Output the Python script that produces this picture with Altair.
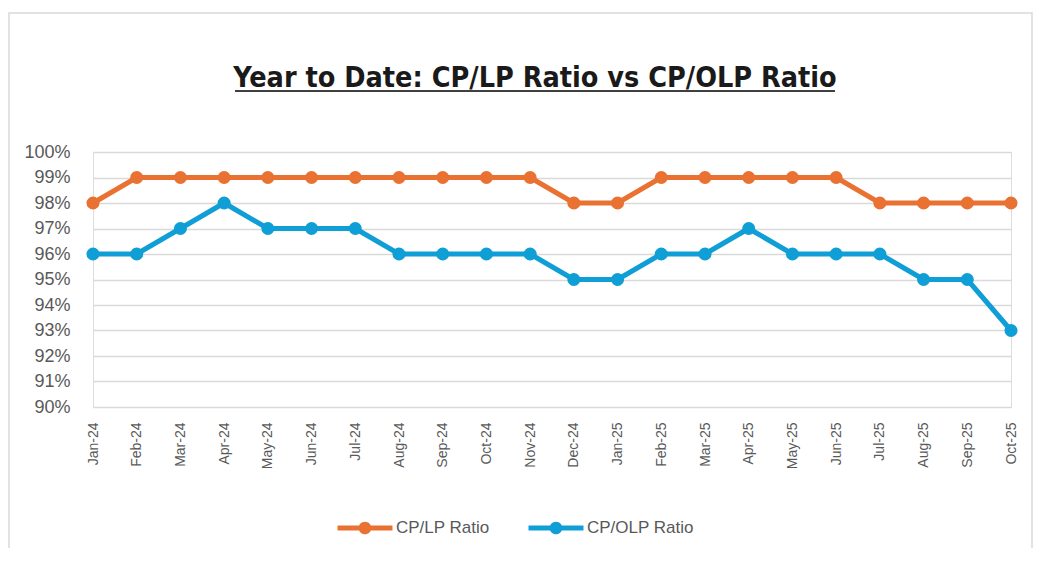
import altair as alt
import pandas as pd

months = ["Jan-24", "Feb-24", "Mar-24", "Apr-24", "May-24", "Jun-24", "Jul-24", "Aug-24",
          "Sep-24", "Oct-24", "Nov-24", "Dec-24", "Jan-25", "Feb-25", "Mar-25", "Apr-25",
          "May-25", "Jun-25", "Jul-25", "Aug-25", "Sep-25", "Oct-25"]
cp_lp = [0.98, 0.99, 0.99, 0.99, 0.99, 0.99, 0.99, 0.99, 0.99, 0.99, 0.99, 0.98,
         0.98, 0.99, 0.99, 0.99, 0.99, 0.99, 0.98, 0.98, 0.98, 0.98]
cp_olp = [0.96, 0.96, 0.97, 0.98, 0.97, 0.97, 0.97, 0.96, 0.96, 0.96, 0.96, 0.95,
          0.95, 0.96, 0.96, 0.97, 0.96, 0.96, 0.96, 0.95, 0.95, 0.93]
series = ["CP/LP Ratio", "CP/OLP Ratio"]
colors = ["#E97132", "#0F9ED5"]
y_ticks = [0.90, 0.91, 0.92, 0.93, 0.94, 0.95, 0.96, 0.97, 0.98, 0.99, 1.00]
title_text = "Year to Date: CP/LP Ratio vs CP/OLP Ratio"

rows = []
for m, v in zip(months, cp_lp):
    rows.append({"Month": m, "Series": series[0], "Value": v})
for m, v in zip(months, cp_olp):
    rows.append({"Month": m, "Series": series[1], "Value": v})
df = pd.DataFrame(rows)

FONT = "Liberation Sans, Arial, sans-serif"

x_enc = alt.X("Month:N", sort=months, title=None,
              scale=alt.Scale(type="point", padding=0),
              axis=alt.Axis(labelAngle=-90, labelFontSize=14, labelColor="#595959",
                            labelFont=FONT, labelPadding=15, domain=False, ticks=False,
                            grid=False))
y_enc = alt.Y("Value:Q", title=None,
              scale=alt.Scale(domain=[0.90, 1.00], nice=False, zero=False),
              axis=alt.Axis(values=y_ticks, format=".0%", labelFontSize=18,
                            labelColor="#595959", labelFont=FONT, labelPadding=23,
                            domain=False, ticks=False, grid=True, gridColor="#d9d9d9",
                            gridWidth=1.5))
color_scale = alt.Scale(domain=series, range=colors)

legend_path = ("M-2,-0.18 L-0.3,-0.18 L-0.3,0.18 L-2,0.18 Z "
               "M0.3,-0.18 L2,-0.18 L2,0.18 L0.3,0.18 Z "
               "M-0.46,0 A0.46,0.46 0 1,1 0.46,0 A0.46,0.46 0 1,1 -0.46,0 Z")
legend = alt.Legend(title=None, orient="none", direction="horizontal",
                    columns=2, legendX=258, legendY=362,
                    symbolType=legend_path, symbolSize=756,
                    symbolStrokeWidth=0, symbolOpacity=1,
                    labelFontSize=17, labelColor="#595959",
                    labelFont=FONT, labelOffset=17,
                    columnPadding=38, padding=0)

lines = alt.Chart(df).mark_line(strokeWidth=5).encode(
    x=x_enc, y=y_enc,
    color=alt.Color("Series:N", scale=color_scale, sort=series, legend=legend),
)

points = alt.Chart(df).mark_point(filled=True, size=170, opacity=1).encode(
    x=x_enc, y=y_enc,
    color=alt.Color("Series:N", scale=color_scale, sort=series, legend=legend),
)

title = alt.Chart(pd.DataFrame({"t": [title_text]})).mark_text(
    font="DejaVu Sans Condensed, Liberation Sans Narrow, sans-serif",
    fontSize=28.5, fontWeight="bold", color="#1a1a1a", align="center",
    baseline="alphabetic",
).encode(text="t:N", x=alt.value(442), y=alt.value(-65))

underline = alt.Chart(pd.DataFrame({"a": [0]})).mark_rule(
    color="#404040", strokeWidth=2
).encode(x=alt.value(142), x2=alt.value(742), y=alt.value(-61))

frame = alt.Chart(pd.DataFrame({"a": [0]})).mark_rect(
    fill=None, stroke="#d9d9d9", strokeWidth=1.5
).encode(x=alt.value(-84), x2=alt.value(939), y=alt.value(-139), y2=alt.value(420))

chart = alt.layer(frame, title, underline, lines, points).properties(
    width=918, height=255,
    autosize=alt.AutoSizeParams(type="none"),
    padding={"left": 85, "top": 144, "right": 22, "bottom": 141},
).configure_view(stroke=None).configure(background="white")

chart.save("out.html", embed_options={"renderer": "svg", "actions": False})
